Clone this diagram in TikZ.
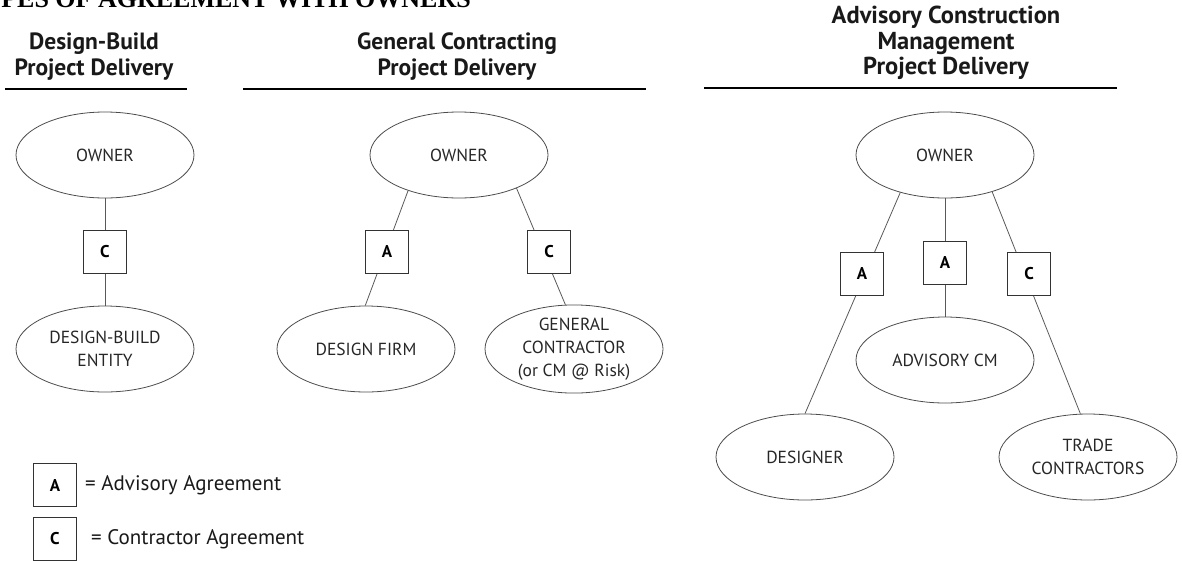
\documentclass[tikz,border=0pt]{standalone}
\usepackage{fontspec}
\setmainfont{PT Sans}
\newfontfamily\titlefont{Liberation Serif}
\usetikzlibrary{shapes.geometric,backgrounds}
\begin{document}
\begin{tikzpicture}[x=1pt,y=-1pt,
  party/.style={ellipse,draw=black!70,line width=0.8pt,minimum width=178pt,minimum height=86pt,inner sep=0pt,align=center,font=\fontsize{17.5}{23}\selectfont,text=black!85},
  agree/.style={rectangle,draw=black!80,line width=0.8pt,fill=white,minimum size=43pt,inner sep=0pt,font=\bfseries\fontsize{17}{20}\selectfont},
  head/.style={align=center,font=\bfseries\fontsize{23.5}{26}\selectfont,text=black!90},
  headbig/.style={align=center,font=\bfseries\fontsize{24.5}{25.5}\selectfont,text=black!90},
  legtext/.style={anchor=west,inner sep=0pt,font=\fontsize{21}{24}\selectfont,text=black!90},
  link/.style={draw=black!65,line width=0.8pt},
  headrule/.style={line width=1.8pt}]
\useasboundingbox (0,0) rectangle (1182,560);
\clip (0,0) rectangle (1182,560);

% title (cut at the top, as in the reference)
\node[anchor=base east,inner sep=0pt,font=\titlefont\bfseries\fontsize{26}{30}\selectfont] (title) at (471,7) {TYPES OF AGREEMENT WITH OWNERS};

% headers
\node[head] (h1) at (94,57) {Design-Build\\Project Delivery};
\node[head] (h2) at (457,57) {General Contracting\\Project Delivery};
\node[headbig] (h3) at (946,43) {Advisory Construction\\Management\\Project Delivery};
\coordinate (r1a) at (5,89);   \coordinate (r1b) at (187,89);
\coordinate (r2a) at (243,89); \coordinate (r2b) at (646,89);
\coordinate (r3a) at (704,88); \coordinate (r3b) at (1117,88);
\draw[headrule] (r1a) -- (r1b);
\draw[headrule] (r2a) -- (r2b);
\draw[headrule] (r3a) -- (r3b);

% panel 1
\node[party] (o1) at (105,155) {OWNER};
\node[agree] (c1) at (105,252) {C};
\node[party] (db) at (105,349) {DESIGN-BUILD\\ENTITY};

% panel 2
\node[party] (o2) at (459,155) {OWNER};
\node[agree] (a2) at (387,252) {A};
\node[agree] (c2) at (549,252) {C};
\node[party] (df) at (366,349) {DESIGN FIRM};
\node[party] (gc) at (574,349) {GENERAL\\CONTRACTOR\\(or CM @ Risk)};

% panel 3
\node[party] (o3) at (945,155) {OWNER};
\node[agree] (a3l) at (862,274) {A};
\node[agree] (a3m) at (945,263) {A};
\node[agree] (c3) at (1029,274) {C};
\node[party] (cm) at (945,360) {ADVISORY CM};
\node[party] (ds) at (805,457) {DESIGNER};
\node[party] (tc) at (1088,457) {TRADE\\CONTRACTORS};

% connectors (behind the agreement boxes)
\begin{pgfonlayer}{background}
\draw[link] (o1) -- (db);
\draw[link] (o2.215) -- (df.91);
\draw[link] (o2.330) -- (gc.101);
\draw[link] (o3.220) -- (ds.90);
\draw[link] (o3) -- (cm);
\draw[link] (o3.322) -- (tc.100);
\end{pgfonlayer}

% legend
\node[agree] (la) at (55,485) {A};
\node[agree] (lc) at (55,539) {C};
\node[legtext] (lat) at (85,485) {= Advisory Agreement};
\node[legtext] (lct) at (91,539) {= Contractor Agreement};
\end{tikzpicture}
\end{document}
